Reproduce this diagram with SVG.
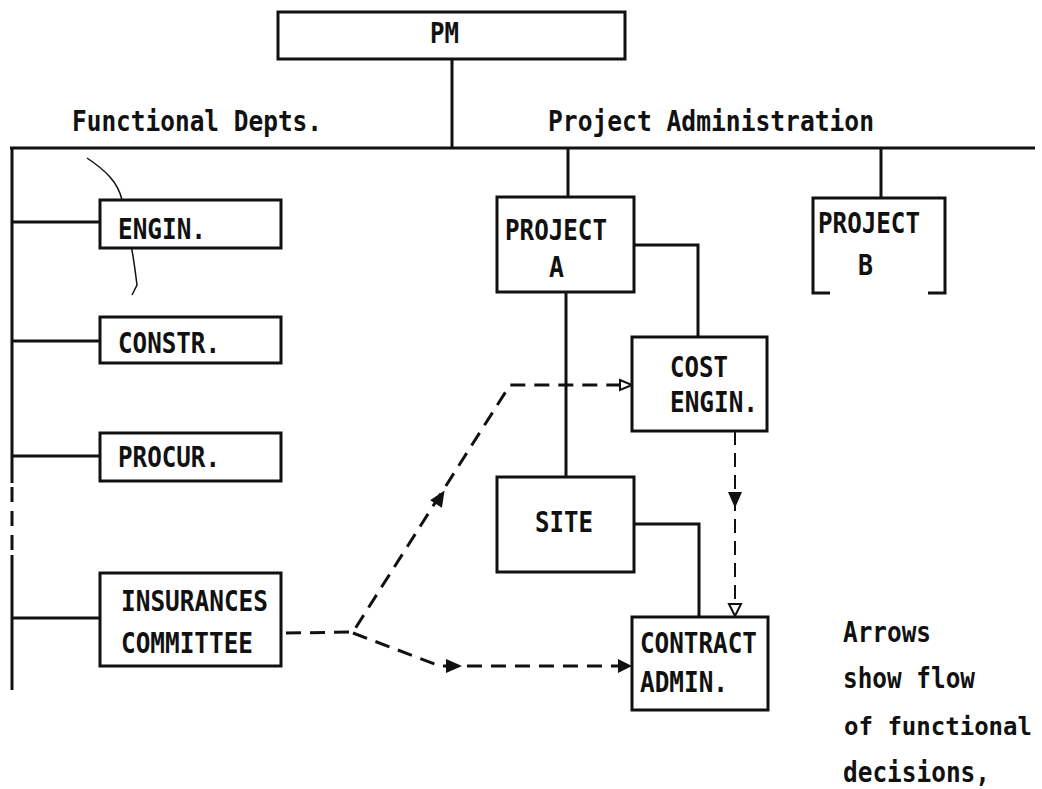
<svg xmlns="http://www.w3.org/2000/svg" width="1042" height="789" viewBox="0 0 1042 789">
<style>
.bx{fill:#fff;stroke:#111;stroke-width:3}
.ln{fill:none;stroke:#111;stroke-width:3}
.dl{fill:none;stroke:#111;stroke-width:3;stroke-dasharray:15 9}
.dt{fill:none;stroke:#111;stroke-width:2;stroke-dasharray:14 8}
.t{font-family:"DejaVu Sans Mono","Liberation Mono",monospace;font-size:29px;font-weight:bold;fill:#111}
.fa{fill:#111}
.ha{fill:#fff;stroke:#111;stroke-width:2}
</style>
<rect width="1042" height="789" fill="#fff"/>
<g id="connectors">
<line class="ln" x1="452" y1="59" x2="452" y2="148"/>
<line class="ln" x1="10" y1="148" x2="1035" y2="148"/>
<line class="ln" x1="568" y1="148" x2="568" y2="197"/>
<line class="ln" x1="881" y1="148" x2="881" y2="198"/>
<polyline class="ln" points="634,245 698,245 698,337"/>
<line class="ln" x1="566" y1="292" x2="566" y2="477"/>
<polyline class="ln" points="634,524 699,524 699,617"/>
<line class="ln" x1="12" y1="147" x2="12" y2="483"/>
<line class="dl" x1="12" y1="487" x2="12" y2="555"/>
<line class="ln" x1="12" y1="555" x2="12" y2="690"/>
<line class="ln" x1="12" y1="222" x2="100" y2="222"/>
<line class="ln" x1="12" y1="341" x2="100" y2="341"/>
<line class="ln" x1="12" y1="456" x2="100" y2="456"/>
<line class="ln" x1="12" y1="618" x2="100" y2="618"/>
<polyline class="dl" points="286,633 353,632 510,385 620,385"/>
<polyline class="dl" points="353,633 440,666 622,666"/>
<line class="dt" x1="735" y1="431" x2="735" y2="605"/>
<polygon class="ha" points="620,380 632,385 620,390"/>
<polygon class="ha" points="729,604 735,616 741,604"/>
<polygon class="fa" points="618,659 632,666 618,673"/>
<polygon class="fa" points="0,-7 16,0 0,7" transform="translate(436,504) rotate(-57.6)"/>
<polygon class="fa" points="0,-7 16,0 0,7" transform="translate(446,666)"/>
<polygon class="fa" points="0,-7 16,0 0,7" transform="translate(735,492) rotate(90)"/>
<path d="M87,158 C105,170 118,182 122,200 C128,225 134,260 137,285 L132,295" fill="none" stroke="#111" stroke-width="1.5"/>
</g>
<g id="pm">
<rect class="bx" x="278" y="12" width="347" height="47"/>
<text class="t" x="430" y="43" textLength="29" lengthAdjust="spacingAndGlyphs">PM</text>
</g>
<g id="label-functional">
<text class="t" x="72" y="131" textLength="250" lengthAdjust="spacingAndGlyphs">Functional Depts.</text>
</g>
<g id="label-project-admin">
<text class="t" x="548" y="131" textLength="326" lengthAdjust="spacingAndGlyphs">Project Administration</text>
</g>
<g id="engin">
<rect class="bx" x="100" y="200" width="181" height="48"/>
<text class="t" x="118" y="239" textLength="88" lengthAdjust="spacingAndGlyphs">ENGIN.</text>
</g>
<g id="constr">
<rect class="bx" x="100" y="317" width="181" height="46"/>
<text class="t" x="118" y="353" textLength="102" lengthAdjust="spacingAndGlyphs">CONSTR.</text>
</g>
<g id="procur">
<rect class="bx" x="100" y="433" width="181" height="48"/>
<text class="t" x="118" y="467" textLength="102" lengthAdjust="spacingAndGlyphs">PROCUR.</text>
</g>
<g id="insurances">
<rect class="bx" x="100" y="573" width="181" height="93"/>
<text class="t" x="121" y="611" textLength="147" lengthAdjust="spacingAndGlyphs">INSURANCES</text>
<text class="t" x="121" y="653" textLength="132" lengthAdjust="spacingAndGlyphs">COMMITTEE</text>
</g>
<g id="project-a">
<rect class="bx" x="497" y="197" width="137" height="95"/>
<text class="t" x="505" y="240" textLength="102" lengthAdjust="spacingAndGlyphs">PROJECT</text>
<text class="t" x="549" y="277" textLength="15" lengthAdjust="spacingAndGlyphs">A</text>
</g>
<g id="project-b">
<path class="ln" d="M830,293 L813,293 L813,198 L945,198 L945,293 L928,293"/>
<text class="t" x="818" y="233" textLength="102" lengthAdjust="spacingAndGlyphs">PROJECT</text>
<text class="t" x="858" y="275" textLength="15" lengthAdjust="spacingAndGlyphs">B</text>
</g>
<g id="cost-engin">
<rect class="bx" x="632" y="337" width="135" height="94"/>
<text class="t" x="670" y="377" textLength="58" lengthAdjust="spacingAndGlyphs">COST</text>
<text class="t" x="670" y="412" textLength="88" lengthAdjust="spacingAndGlyphs">ENGIN.</text>
</g>
<g id="site">
<rect class="bx" x="497" y="477" width="137" height="95"/>
<text class="t" x="535" y="532" textLength="58" lengthAdjust="spacingAndGlyphs">SITE</text>
</g>
<g id="contract-admin">
<rect class="bx" x="632" y="617" width="136" height="93"/>
<text class="t" x="640" y="653" textLength="117" lengthAdjust="spacingAndGlyphs">CONTRACT</text>
<text class="t" x="640" y="692" textLength="88" lengthAdjust="spacingAndGlyphs">ADMIN.</text>
</g>
<g id="note">
<text class="t" x="843" y="642" textLength="88" lengthAdjust="spacingAndGlyphs">Arrows</text>
<text class="t" x="843" y="688" textLength="132" lengthAdjust="spacingAndGlyphs">show flow</text>
<text class="t" x="844" y="735" style="font-size:25px" textLength="188" lengthAdjust="spacingAndGlyphs">of functional</text>
<text class="t" x="843" y="782" textLength="147" lengthAdjust="spacingAndGlyphs">decisions,</text>
</g>
</svg>
